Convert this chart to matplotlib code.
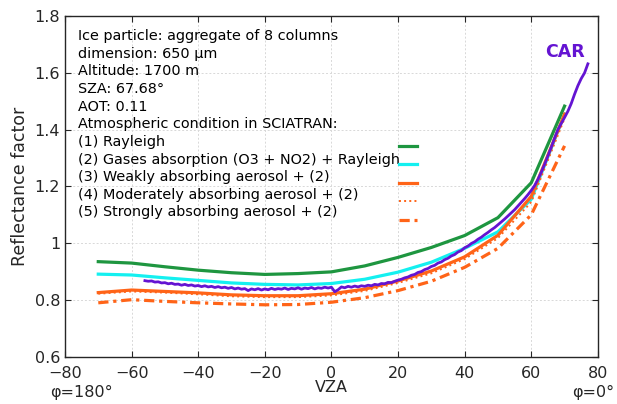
import numpy as np
import matplotlib
matplotlib.use("Agg")
import matplotlib.pyplot as plt
from matplotlib.lines import Line2D

# SCIATRAN simulations, sampled every 10 deg of viewing zenith angle
vza_model = [-70, -60, -50, -40, -30, -20, -10, 0, 10, 20, 30, 40, 50, 60, 70]
rayleigh = [0.935, 0.930, 0.917, 0.905, 0.896, 0.890, 0.893, 0.899, 0.920, 0.950,
            0.985, 1.027, 1.090, 1.213, 1.483]
gases = [0.891, 0.888, 0.878, 0.869, 0.860, 0.855, 0.853, 0.858, 0.873, 0.898,
         0.933, 0.982, 1.040, 1.155, 1.455]
weak_aer = [0.826, 0.835, 0.830, 0.825, 0.818, 0.815, 0.815, 0.822, 0.838, 0.867,
            0.902, 0.952, 1.028, 1.165, 1.455]
moderate_aer = [0.822, 0.830, 0.826, 0.820, 0.813, 0.810, 0.810, 0.816, 0.832, 0.860,
                0.894, 0.944, 1.018, 1.145, 1.440]
strong_aer = [0.790, 0.801, 0.795, 0.790, 0.786, 0.783, 0.784, 0.792, 0.808, 0.833,
              0.866, 0.915, 0.982, 1.100, 1.343]

# CAR measurement, 1 deg steps from -56 to 77
vza_car = list(range(-56, 78))
car = [0.868, 0.866, 0.867, 0.863, 0.864, 0.860, 0.861, 0.857, 0.859, 0.855,
       0.856, 0.852, 0.855, 0.851, 0.853, 0.849, 0.851, 0.847, 0.850, 0.846,
       0.848, 0.844, 0.847, 0.843, 0.845, 0.841, 0.844, 0.839, 0.842, 0.838,
       0.840, 0.833, 0.839, 0.836, 0.840, 0.835, 0.839, 0.836, 0.841, 0.837,
       0.840, 0.838, 0.842, 0.837, 0.841, 0.839, 0.843, 0.838, 0.842, 0.840,
       0.844, 0.839, 0.843, 0.841, 0.845, 0.842, 0.845, 0.829, 0.836, 0.846,
       0.843, 0.848, 0.845, 0.849, 0.846, 0.850, 0.848, 0.852, 0.850, 0.855,
       0.853, 0.858, 0.857, 0.862, 0.861, 0.866, 0.870, 0.873, 0.878, 0.881,
       0.887, 0.890, 0.897, 0.900, 0.907, 0.911, 0.918, 0.922, 0.930, 0.934,
       0.942, 0.947, 0.955, 0.960, 0.969, 0.974, 0.984, 0.990, 0.999, 1.005,
       1.014, 1.021, 1.030, 1.038, 1.047, 1.055, 1.065, 1.075, 1.085, 1.096,
       1.107, 1.118, 1.131, 1.144, 1.157, 1.171, 1.186, 1.203, 1.225, 1.250,
       1.278, 1.308, 1.338, 1.370, 1.400, 1.422, 1.443, 1.465, 1.492, 1.525,
       1.555, 1.580, 1.600, 1.632]

xticks = [-80, -60, -40, -20, 0, 20, 40, 60, 80]
yticks = [0.6, 0.8, 1.0, 1.2, 1.4, 1.6, 1.8]
ytick_labels = ["0.6", "0.8", "1", "1.2", "1.4", "1.6", "1.8"]

info_lines = [
    "Ice particle: aggregate of 8 columns",
    "dimension: 650 µm",
    "Altitude: 1700 m",
    "SZA: 67.68°",
    "AOT: 0.11",
    "Atmospheric condition in SCIATRAN:",
    "(1) Rayleigh",
    "(2) Gases absorption (O3 + NO2) + Rayleigh",
    "(3) Weakly absorbing aerosol + (2)",
    "(4) Moderately absorbing aerosol + (2)",
    "(5) Strongly absorbing aerosol + (2)",
]

green = "#1e9640"
cyan = "#14f0f0"
orange = "#ff6418"
purple = "#6414d2"
dark = "#262626"

plt.rcParams["font.family"] = "DejaVu Sans"

fig = plt.figure(figsize=(6.17, 4.04), dpi=100)
ax = fig.add_axes([0.1053, 0.117, 0.8637, 0.843])

l1, = ax.plot(vza_model, rayleigh, color=green, lw=2.3)
l2, = ax.plot(vza_model, gases, color=cyan, lw=2.3)
l3, = ax.plot(vza_model, weak_aer, color=orange, lw=2.3)
l4, = ax.plot(vza_model, moderate_aer, color=orange, lw=1.4, ls=":")
l5, = ax.plot(vza_model, strong_aer, color=orange, lw=2.3, ls=(0, (3.2, 1.5, 1.0, 1.5)))
ax.plot(vza_car, car, color=purple, lw=2.0)

ax.text(76, 1.673, "CAR", color=purple, fontsize=12.5,
        fontweight="bold", ha="right", va="center")

ax.set_xlim(-80, 80)
ax.set_ylim(0.6, 1.8)
ax.set_xticks(xticks)
ax.set_yticks(yticks)
ax.set_yticklabels(ytick_labels)
ax.tick_params(direction="in", top=True, right=True, labelsize=11.5,
               length=4, colors=dark)
ax.tick_params(axis="x", pad=7)
ax.grid(True, color="#d8d8d8", ls=(0, (2, 2)), lw=0.7)
for sp in ax.spines.values():
    sp.set_color(dark)
    sp.set_linewidth(1.0)

ax.set_ylabel("Reflectance factor", fontsize=12.5, color=dark, labelpad=4)
ax.set_xlabel("VZA", fontsize=11.5, color=dark, labelpad=-1)
ax.text(-0.028, -0.105, "φ=180°", transform=ax.transAxes, fontsize=11.5,
        color=dark, ha="left", va="center")
ax.text(1.031, -0.105, "φ=0°", transform=ax.transAxes, fontsize=11.5,
        color=dark, ha="right", va="center")

# info block, one line at a time
for i, line in enumerate(info_lines):
    ax.text(0.024, 0.941 - i * 0.0517, line, transform=ax.transAxes,
            fontsize=10.4, color="black", va="center")

ax.legend([l1, l2, l3, l4, l5], [" "] * 5, loc="upper left",
          bbox_to_anchor=(0.627, 0.638), frameon=False, fontsize=10,
          handlelength=1.3, handletextpad=0, labelspacing=0.33, borderpad=0,
          borderaxespad=0)

fig.savefig("out.png", dpi=100)
